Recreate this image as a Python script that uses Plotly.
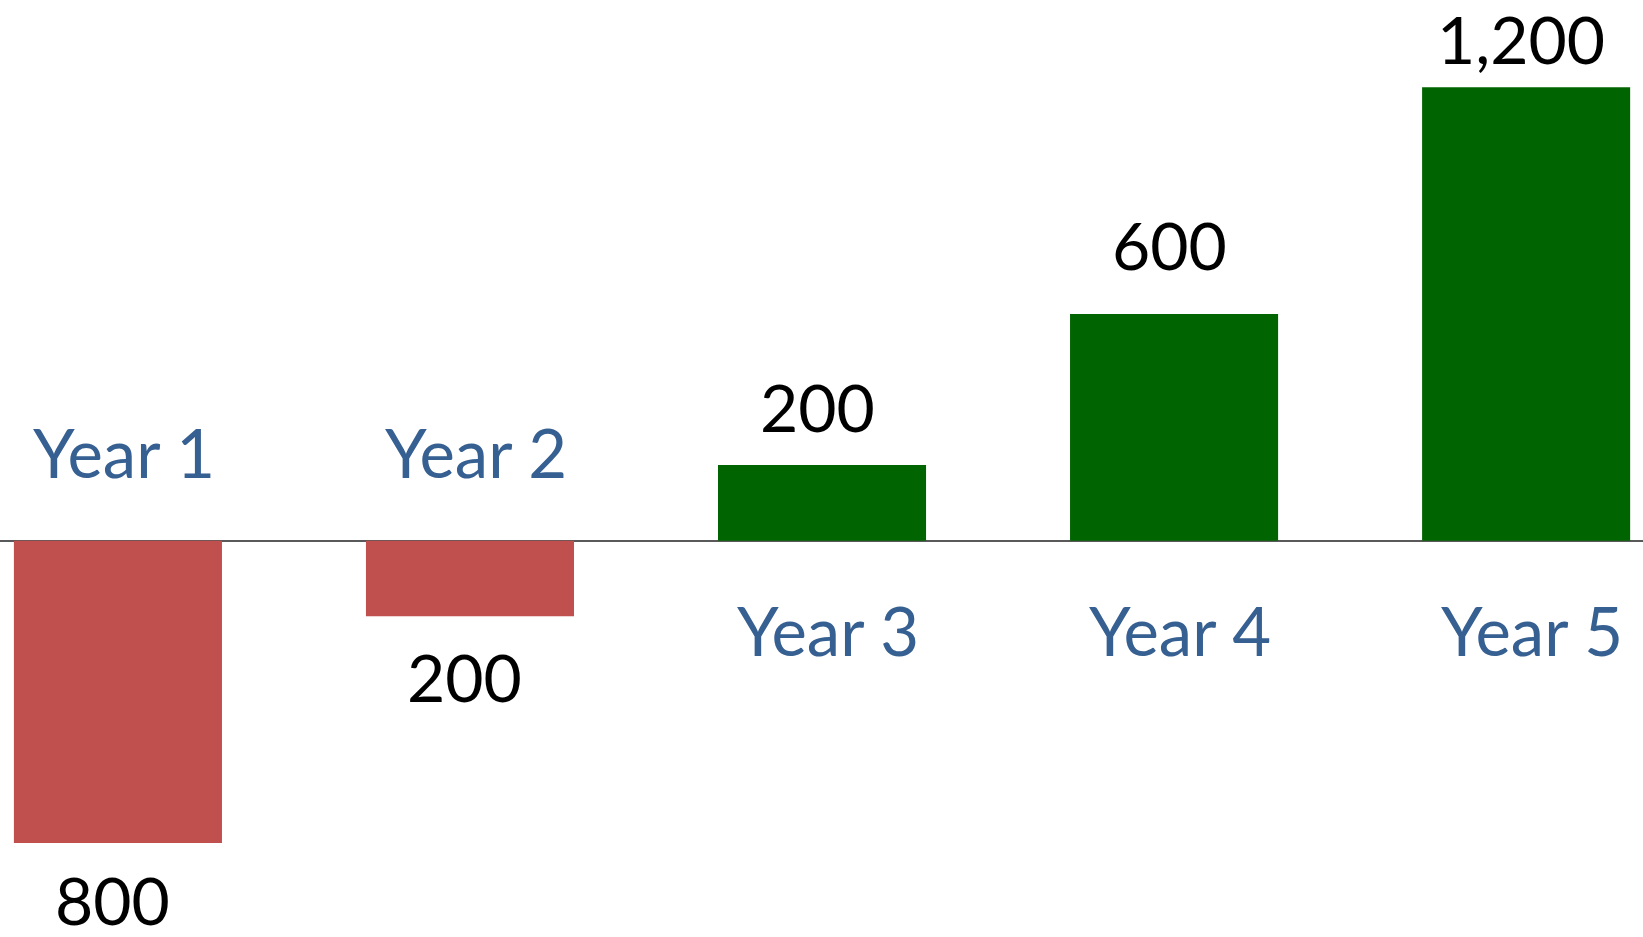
import plotly.graph_objects as go

categories = ["Year 1", "Year 2", "Year 3", "Year 4", "Year 5"]
values = [-800, -200, 200, 600, 1200]

# styling
NEG_COLOR = "#C0504D"
POS_COLOR = "#006400"
CAT_COLOR = "#376092"
FONT = "Lato, Carlito, Calibri, sans-serif"
value_label_gap = [56, 60, 59, 69, 49]   # px from bar end to label centre
cat_label_gap = 89                        # px from zero line to label centre

colors = [NEG_COLOR if v < 0 else POS_COLOR for v in values]

fig = go.Figure(
    go.Bar(
        x=categories,
        y=values,
        marker=dict(color=colors, line=dict(width=0)),
        hoverinfo="x+y",
    )
)

annotations = []
for cat, v, gap in zip(categories, values, value_label_gap):
    sign = 1 if v >= 0 else -1
    annotations.append(dict(
        x=cat, y=v, xref="x", yref="y",
        text=f"{abs(v):,}", showarrow=False,
        yanchor="middle", xanchor="center",
        yshift=sign * gap, xshift=-5,
        font=dict(family=FONT, size=66, color="#000000"),
    ))
    annotations.append(dict(
        x=cat, y=0, xref="x", yref="y",
        text=cat, showarrow=False,
        yanchor="middle", xanchor="center",
        yshift=-sign * cat_label_gap, xshift=6,
        font=dict(family=FONT, size=67, color=CAT_COLOR),
    ))

fig.update_layout(
    width=1643, height=937,
    margin=dict(l=0, r=0, t=0, b=0, pad=0),
    paper_bgcolor="white", plot_bgcolor="white",
    showlegend=False,
    bargap=0.409,
    annotations=annotations,
    xaxis=dict(range=[-0.335, 4.332], showticklabels=False, showgrid=False,
               zeroline=False, showline=False, ticks=""),
    yaxis=dict(range=[-1048.7, 1430.8], showticklabels=False, showgrid=False,
               zeroline=True, zerolinecolor="#595959", zerolinewidth=2,
               showline=False, ticks=""),
)

fig.write_html("out.html", config={"displayModeBar": False},
               post_script="document.body.style.margin='0';")
